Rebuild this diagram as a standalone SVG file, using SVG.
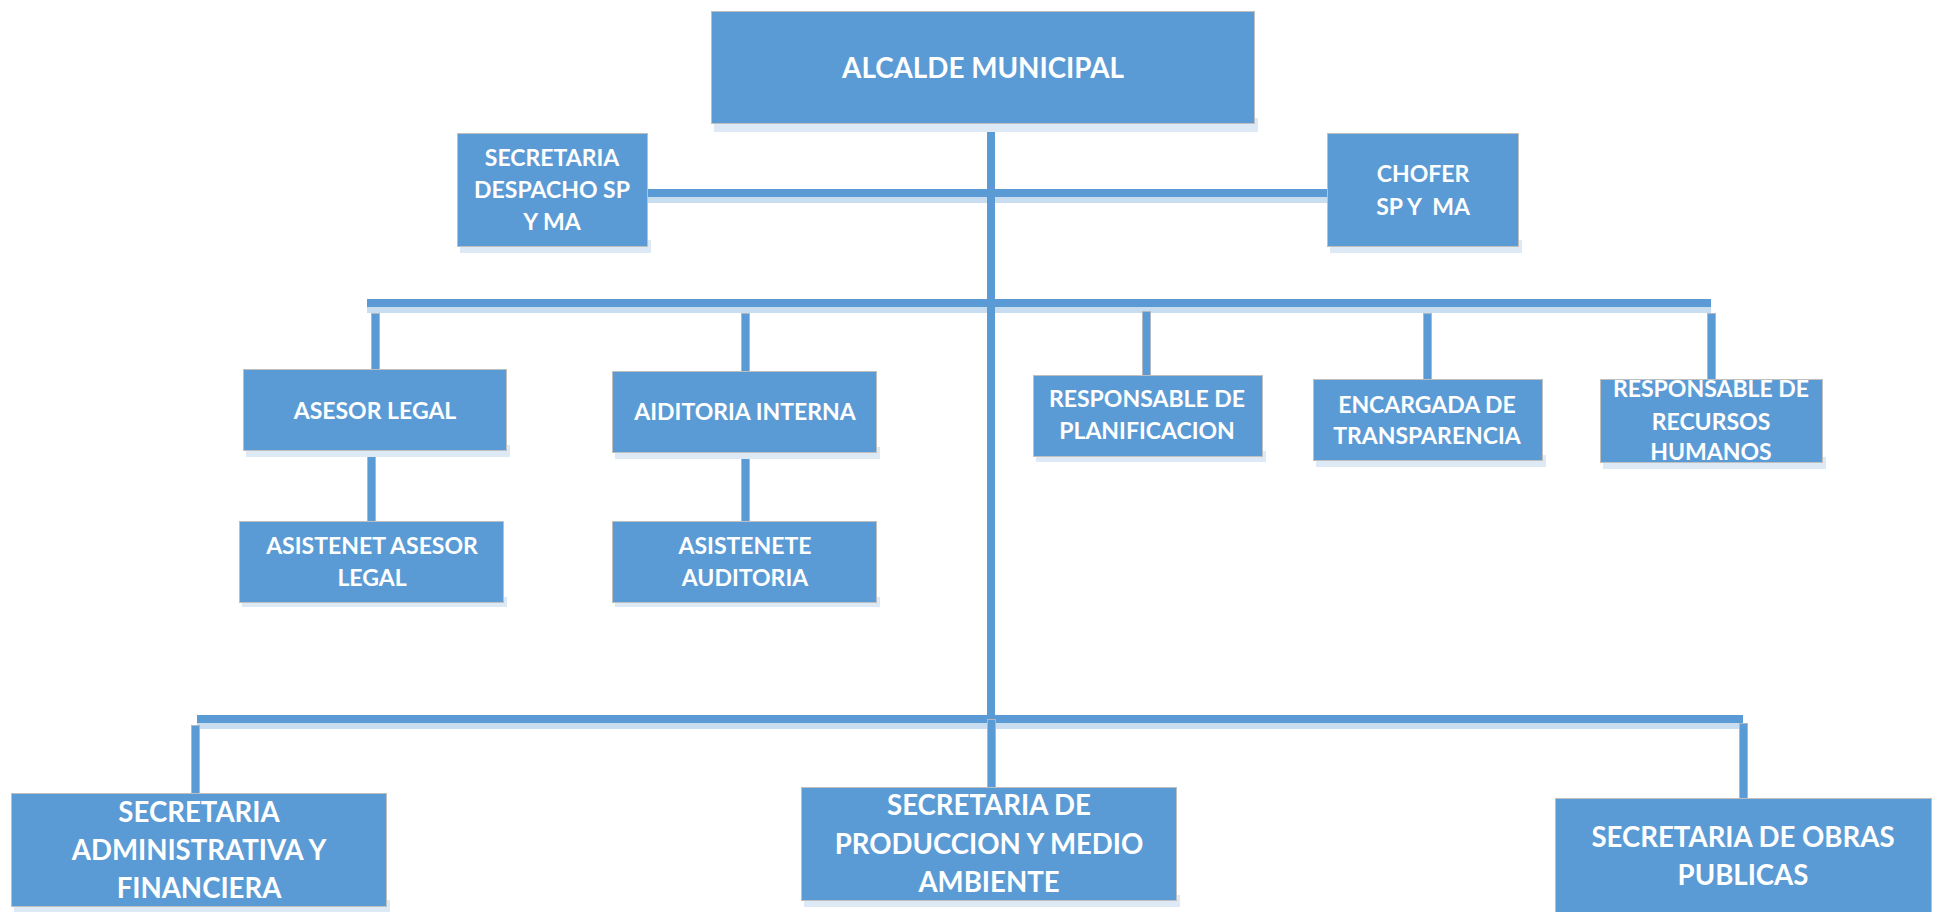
<svg xmlns="http://www.w3.org/2000/svg" width="1934" height="912" viewBox="0 0 1934 912">
<style>
.box{fill:#5B9BD5;stroke:#BFBFBF;stroke-width:1}
.sh{fill:#DDE9F5}
.bar{fill:#5B9BD5}
.barsh{fill:#C9DDF0}
.drop{fill:#5B9BD5;stroke:#B0B8C4;stroke-width:1}
.t{font-family:Lato,"Liberation Sans",sans-serif;font-weight:bold;fill:#FFFFFF;text-anchor:middle}
.t1{font-size:27.8px}
.t2{font-size:23px}
.t3{font-size:27.6px}
</style>
<rect width="1934" height="912" fill="#FFFFFF"/>
<g id="connectors">
<rect class="barsh" x="648" y="197" width="679" height="6"/>
<rect class="bar" x="648" y="189" width="679" height="8"/>
<rect class="barsh" x="367" y="307" width="1344" height="6"/>
<rect class="bar" x="367" y="299" width="1344" height="8"/>
<rect class="barsh" x="197" y="723" width="1546" height="6"/>
<rect class="bar" x="197" y="715" width="1546" height="8"/>
<rect class="bar" x="987" y="124" width="8" height="599"/>
<rect class="drop" x="371.5" y="313.5" width="8" height="56"/>
<rect class="drop" x="741.5" y="313.5" width="8" height="58"/>
<rect class="drop" x="1142.5" y="311.5" width="8" height="64"/>
<rect class="drop" x="1423.5" y="313.5" width="8" height="66"/>
<rect class="drop" x="1707.5" y="313.5" width="8" height="66"/>
<rect class="drop" x="367.5" y="451.5" width="8" height="70"/>
<rect class="drop" x="741.5" y="453.5" width="8" height="68"/>
<rect class="drop" x="191.5" y="725.5" width="8" height="68"/>
<rect class="drop" x="987.5" y="719.5" width="8" height="68"/>
<rect class="drop" x="1739.5" y="723.5" width="8" height="75"/>
</g>
<g id="alcalde">
<rect class="sh" x="714" y="118" width="544" height="14"/>
<rect class="box" x="711.5" y="11.5" width="543" height="112"/>
<text class="t t1" x="983" y="78">ALCALDE MUNICIPAL</text>
</g>
<g id="secretaria-despacho">
<rect class="sh" x="460" y="240" width="191" height="13"/>
<rect class="box" x="457.5" y="133.5" width="190" height="113"/>
<text class="t t2" x="552" y="166">SECRETARIA</text>
<text class="t t2" x="552" y="198">DESPACHO SP</text>
<text class="t t2" x="552" y="230">Y MA</text>
</g>
<g id="chofer">
<rect class="sh" x="1330" y="240" width="192" height="13"/>
<rect class="box" x="1327.5" y="133.5" width="191" height="113"/>
<text class="t t2" x="1423" y="182">CHOFER</text>
<text class="t t2" x="1423" y="215" xml:space="preserve">SP Y  MA</text>
</g>
<g id="asesor-legal">
<rect class="sh" x="246" y="445" width="264" height="12"/>
<rect class="box" x="243.5" y="369.5" width="263" height="81"/>
<text class="t t2" x="375" y="419">ASESOR LEGAL</text>
</g>
<g id="auditoria-interna">
<rect class="sh" x="615" y="447" width="265" height="12"/>
<rect class="box" x="612.5" y="371.5" width="264" height="81"/>
<text class="t t2" x="745" y="420">AIDITORIA INTERNA</text>
</g>
<g id="asistente-asesor">
<rect class="sh" x="242" y="597" width="265" height="10"/>
<rect class="box" x="239.5" y="521.5" width="264" height="81"/>
<text class="t t2" x="372" y="554">ASISTENET ASESOR</text>
<text class="t t2" x="372" y="586">LEGAL</text>
</g>
<g id="asistente-auditoria">
<rect class="sh" x="615" y="597" width="265" height="10"/>
<rect class="box" x="612.5" y="521.5" width="264" height="81"/>
<text class="t t2" x="745" y="554">ASISTENETE</text>
<text class="t t2" x="745" y="586">AUDITORIA</text>
</g>
<g id="planificacion">
<rect class="sh" x="1036" y="451" width="230" height="11"/>
<rect class="box" x="1033.5" y="375.5" width="229" height="81"/>
<text class="t t2" x="1147" y="407">RESPONSABLE DE</text>
<text class="t t2" x="1147" y="439">PLANIFICACION</text>
</g>
<g id="transparencia">
<rect class="sh" x="1316" y="455" width="230" height="12"/>
<rect class="box" x="1313.5" y="379.5" width="229" height="81"/>
<text class="t t2" x="1427" y="413">ENCARGADA DE</text>
<text class="t t2" x="1427" y="444">TRANSPARENCIA</text>
</g>
<g id="recursos-humanos">
<rect class="sh" x="1603" y="457" width="223" height="12"/>
<rect class="box" x="1600.5" y="379.5" width="222" height="83"/>
<text class="t t2" x="1711" y="397">RESPONSABLE DE</text>
<text class="t t2" x="1711" y="430">RECURSOS</text>
<text class="t t2" x="1711" y="460">HUMANOS</text>
</g>
<g id="secretaria-administrativa">
<rect class="sh" x="14" y="900" width="376" height="12"/>
<rect class="box" x="11.5" y="793.5" width="375" height="113"/>
<text class="t t3" x="199" y="822">SECRETARIA</text>
<text class="t t3" x="199" y="860">ADMINISTRATIVA Y</text>
<text class="t t3" x="199" y="898">FINANCIERA</text>
</g>
<g id="secretaria-produccion">
<rect class="sh" x="804" y="895" width="376" height="12"/>
<rect class="box" x="801.5" y="787.5" width="375" height="113"/>
<text class="t t3" x="989" y="815">SECRETARIA DE</text>
<text class="t t3" x="989" y="854">PRODUCCION Y MEDIO</text>
<text class="t t3" x="989" y="892">AMBIENTE</text>
</g>
<g id="secretaria-obras">
<rect class="box" x="1555.5" y="798.5" width="376" height="120"/>
<text class="t t3" x="1743" y="847">SECRETARIA DE OBRAS</text>
<text class="t t3" x="1743" y="885">PUBLICAS</text>
</g>
</svg>
